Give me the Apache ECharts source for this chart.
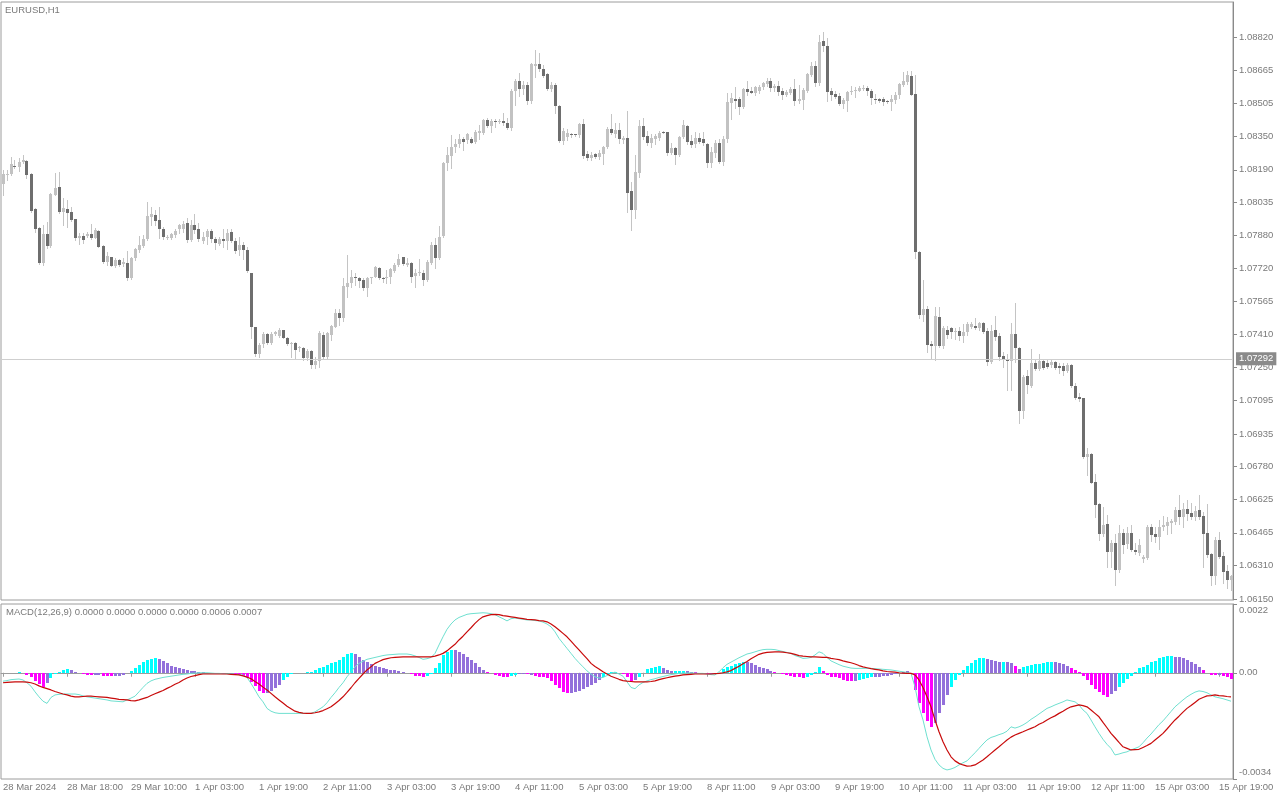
<!DOCTYPE html>
<html><head><meta charset="utf-8">
<script src="https://cdn.jsdelivr.net/npm/echarts@6/dist/echarts.min.js"></script>
<style>html,body{margin:0;padding:0;background:#fff}#c{width:1280px;height:800px}</style>
</head><body><div id="c"></div>
<script>
const symbolTitle = 'EURUSD,H1';
const macdTitle = 'MACD(12,26,9) 0.0000 0.0000 0.0000 0.0000 0.0006 0.0007';

const opens = [1.08121,1.08165,1.08170,1.08210,1.08205,1.08229,1.08232,1.08170,1.08004,1.07915,
1.07746,1.07887,1.07830,1.08070,1.08110,1.07991,1.08004,1.07991,1.07956,1.07864,
1.07877,1.07877,1.07883,1.07868,1.07899,1.07830,1.07750,1.07777,1.07735,1.07762,
1.07741,1.07746,1.07674,1.07769,1.07809,1.07830,1.07861,1.07967,1.07975,1.07952,
1.07911,1.07867,1.07864,1.07880,1.07907,1.07911,1.07938,1.07856,1.07927,1.07907,
1.07853,1.07869,1.07900,1.07862,1.07837,1.07859,1.07853,1.07896,1.07853,1.07808,
1.07832,1.07808,1.07698,1.07441,1.07314,1.07362,1.07409,1.07368,1.07412,1.07400,
1.07428,1.07393,1.07362,1.07368,1.07341,1.07341,1.07294,1.07330,1.07262,1.07283,
1.07405,1.07302,1.07405,1.07444,1.07511,1.07484,1.07634,1.07650,1.07682,1.07674,
1.07666,1.07627,1.07674,1.07682,1.07722,1.07677,1.07674,1.07679,1.07711,1.07737,
1.07774,1.07737,1.07748,1.07685,1.07698,1.07701,1.07666,1.07749,1.07833,1.07769,
1.07875,1.08221,1.08255,1.08297,1.08312,1.08339,1.08331,1.08338,1.08324,1.08367,
1.08367,1.08427,1.08398,1.08424,1.08419,1.08424,1.08411,1.08387,1.08566,1.08614,
1.08573,1.08593,1.08519,1.08683,1.08693,1.08668,1.08645,1.08573,1.08593,1.08493,
1.08329,1.08344,1.08360,1.08359,1.08355,1.08408,1.08265,1.08245,1.08265,1.08249,
1.08265,1.08297,1.08383,1.08360,1.08379,1.08332,1.08340,1.08091,1.07999,1.08177,
1.08398,1.08351,1.08319,1.08335,1.08340,1.08371,1.08371,1.08272,1.08292,1.08261,
1.08348,1.08398,1.08329,1.08313,1.08340,1.08335,1.08313,1.08224,1.08268,1.08319,
1.08229,1.08335,1.08509,1.08525,1.08525,1.08490,1.08573,1.08566,1.08557,1.08566,
1.08582,1.08598,1.08614,1.08577,1.08588,1.08566,1.08544,1.08555,1.08576,1.08516,
1.08523,1.08566,1.08642,1.08682,1.08603,1.08801,1.08777,1.08566,1.08550,1.08539,
1.08503,1.08519,1.08560,1.08563,1.08566,1.08574,1.08579,1.08563,1.08528,1.08528,
1.08528,1.08519,1.08512,1.08523,1.08544,1.08595,1.08607,1.08634,1.08550,1.07800,
1.07502,1.07530,1.07361,1.07354,1.07492,1.07354,1.07429,1.07440,1.07418,1.07424,
1.07402,1.07418,1.07445,1.07449,1.07437,1.07460,1.07424,1.07278,1.07429,1.07402,
1.07307,1.07291,1.07281,1.07408,1.07342,1.07044,1.07212,1.07164,1.07270,1.07243,
1.07281,1.07270,1.07262,1.07278,1.07259,1.07259,1.07234,1.07262,1.07164,1.07112,
1.07104,1.06827,1.06839,1.06708,1.06602,1.06459,1.06507,1.06375,1.06418,1.06288,
1.06462,1.06412,1.06462,1.06383,1.06371,1.06339,1.06344,1.06494,1.06459,1.06447,
1.06491,1.06497,1.06513,1.06518,1.06573,1.06538,1.06576,1.06561,1.06542,1.06573,
1.06545,1.06466,1.06364,1.06260,1.06431,1.06355,1.06283,1.06241];

const highs = [1.08189,1.08189,1.08253,1.08237,1.08245,1.08260,1.08237,1.08173,1.08007,1.07918,
1.07928,1.07944,1.08078,1.08173,1.08181,1.08055,1.08047,1.08015,1.07956,1.07888,
1.07888,1.07893,1.07931,1.07915,1.07904,1.07833,1.07801,1.07777,1.07769,1.07766,
1.07769,1.07804,1.07777,1.07817,1.07877,1.07880,1.08039,1.08015,1.07999,1.08015,
1.07919,1.07880,1.07888,1.07911,1.07935,1.07948,1.07959,1.07951,1.07979,1.07938,
1.07896,1.07907,1.07911,1.07872,1.07869,1.07907,1.07911,1.07907,1.07864,1.07872,
1.07848,1.07824,1.07701,1.07444,1.07365,1.07420,1.07416,1.07420,1.07425,1.07436,
1.07431,1.07397,1.07373,1.07373,1.07354,1.07349,1.07338,1.07335,1.07302,1.07425,
1.07421,1.07421,1.07452,1.07527,1.07527,1.07674,1.07785,1.07714,1.07698,1.07682,
1.07674,1.07682,1.07682,1.07733,1.07730,1.07682,1.07714,1.07722,1.07745,1.07790,
1.07777,1.07769,1.07753,1.07717,1.07764,1.07714,1.07761,1.07848,1.07864,1.07923,
1.08228,1.08300,1.08355,1.08335,1.08360,1.08347,1.08363,1.08348,1.08379,1.08403,
1.08430,1.08435,1.08430,1.08430,1.08430,1.08459,1.08435,1.08573,1.08620,1.08652,
1.08614,1.08609,1.08699,1.08759,1.08747,1.08688,1.08652,1.08609,1.08604,1.08497,
1.08387,1.08382,1.08367,1.08360,1.08411,1.08430,1.08281,1.08276,1.08272,1.08284,
1.08303,1.08392,1.08455,1.08411,1.08414,1.08350,1.08471,1.08134,1.08261,1.08427,
1.08435,1.08376,1.08360,1.08360,1.08376,1.08373,1.08371,1.08319,1.08297,1.08351,
1.08427,1.08403,1.08356,1.08371,1.08367,1.08371,1.08319,1.08297,1.08332,1.08335,
1.08351,1.08554,1.08554,1.08582,1.08538,1.08577,1.08614,1.08582,1.08588,1.08593,
1.08609,1.08625,1.08625,1.08598,1.08614,1.08579,1.08571,1.08582,1.08623,1.08595,
1.08579,1.08650,1.08702,1.08706,1.08829,1.08845,1.08816,1.08579,1.08566,1.08555,
1.08531,1.08566,1.08587,1.08582,1.08587,1.08592,1.08587,1.08576,1.08550,1.08531,
1.08535,1.08523,1.08547,1.08560,1.08603,1.08655,1.08658,1.08661,1.08639,1.07803,
1.07668,1.07541,1.07376,1.07540,1.07540,1.07449,1.07449,1.07445,1.07437,1.07445,
1.07456,1.07465,1.07465,1.07484,1.07468,1.07468,1.07437,1.07452,1.07497,1.07413,
1.07326,1.07313,1.07460,1.07555,1.07350,1.07215,1.07239,1.07338,1.07286,1.07313,
1.07286,1.07286,1.07289,1.07281,1.07270,1.07270,1.07270,1.07266,1.07175,1.07128,
1.07107,1.06866,1.06846,1.06744,1.06605,1.06589,1.06550,1.06431,1.06459,1.06502,
1.06481,1.06494,1.06502,1.06418,1.06434,1.06359,1.06502,1.06507,1.06494,1.06526,
1.06545,1.06542,1.06529,1.06589,1.06645,1.06605,1.06621,1.06605,1.06592,1.06645,
1.06565,1.06602,1.06371,1.06447,1.06470,1.06375,1.06312,1.06264];

const lows = [1.08070,1.08142,1.08165,1.08197,1.08184,1.08221,1.08150,1.07991,1.07893,1.07741,
1.07738,1.07820,1.07825,1.08070,1.07983,1.07928,1.07920,1.07947,1.07857,1.07836,
1.07841,1.07872,1.07861,1.07864,1.07825,1.07746,1.07738,1.07735,1.07730,1.07735,
1.07735,1.07666,1.07671,1.07762,1.07801,1.07825,1.07857,1.07928,1.07928,1.07864,
1.07859,1.07859,1.07859,1.07872,1.07888,1.07896,1.07848,1.07853,1.07888,1.07853,
1.07840,1.07837,1.07848,1.07816,1.07832,1.07824,1.07816,1.07848,1.07796,1.07785,
1.07764,1.07705,1.07389,1.07305,1.07302,1.07349,1.07362,1.07362,1.07406,1.07397,
1.07389,1.07357,1.07302,1.07294,1.07330,1.07286,1.07286,1.07250,1.07246,1.07254,
1.07294,1.07294,1.07381,1.07441,1.07452,1.07473,1.07587,1.07634,1.07642,1.07634,
1.07619,1.07590,1.07650,1.07679,1.07669,1.07658,1.07650,1.07650,1.07706,1.07733,
1.07737,1.07733,1.07658,1.07631,1.07690,1.07642,1.07663,1.07742,1.07722,1.07764,
1.07872,1.08189,1.08197,1.08276,1.08300,1.08284,1.08316,1.08316,1.08319,1.08335,
1.08360,1.08392,1.08371,1.08392,1.08411,1.08403,1.08382,1.08379,1.08498,1.08541,
1.08550,1.08503,1.08509,1.08633,1.08661,1.08630,1.08569,1.08566,1.08459,1.08324,
1.08313,1.08332,1.08348,1.08350,1.08348,1.08245,1.08237,1.08237,1.08245,1.08240,
1.08218,1.08292,1.08360,1.08348,1.08316,1.08320,1.07991,1.07904,1.07960,1.08154,
1.08335,1.08308,1.08300,1.08313,1.08332,1.08363,1.08261,1.08265,1.08218,1.08256,
1.08340,1.08313,1.08297,1.08300,1.08316,1.08308,1.08205,1.08202,1.08253,1.08221,
1.08213,1.08324,1.08430,1.08482,1.08455,1.08482,1.08546,1.08554,1.08546,1.08554,
1.08573,1.08588,1.08566,1.08566,1.08547,1.08528,1.08539,1.08550,1.08500,1.08508,
1.08481,1.08560,1.08634,1.08587,1.08595,1.08756,1.08515,1.08523,1.08531,1.08500,
1.08484,1.08468,1.08550,1.08536,1.08563,1.08571,1.08547,1.08503,1.08508,1.08512,
1.08496,1.08508,1.08476,1.08508,1.08531,1.08587,1.08598,1.08544,1.07771,1.07486,
1.07470,1.07324,1.07291,1.07286,1.07349,1.07342,1.07389,1.07389,1.07386,1.07381,
1.07373,1.07405,1.07437,1.07433,1.07429,1.07413,1.07262,1.07270,1.07381,1.07286,
1.07254,1.07144,1.07144,1.07278,1.06985,1.07012,1.07128,1.07159,1.07239,1.07239,
1.07243,1.07246,1.07254,1.07243,1.07223,1.07215,1.07228,1.07159,1.07101,1.07091,
1.06819,1.06740,1.06700,1.06542,1.06431,1.06450,1.06304,1.06304,1.06217,1.06280,
1.06367,1.06391,1.06380,1.06364,1.06359,1.06328,1.06339,1.06428,1.06423,1.06386,
1.06478,1.06459,1.06462,1.06507,1.06507,1.06494,1.06526,1.06529,1.06526,1.06529,
1.06304,1.06351,1.06217,1.06222,1.06344,1.06225,1.06201,1.06193];

const closes = [1.08169,1.08172,1.08218,1.08205,1.08229,1.08237,1.08165,1.07996,1.07909,1.07746,
1.07883,1.07830,1.08075,1.08105,1.07991,1.08010,1.07983,1.07952,1.07868,1.07877,
1.07857,1.07887,1.07868,1.07904,1.07825,1.07750,1.07782,1.07735,1.07762,1.07738,
1.07750,1.07674,1.07773,1.07814,1.07833,1.07861,1.07972,1.07979,1.07947,1.07907,
1.07869,1.07872,1.07883,1.07900,1.07927,1.07932,1.07856,1.07927,1.07903,1.07859,
1.07872,1.07900,1.07859,1.07843,1.07859,1.07853,1.07891,1.07853,1.07805,1.07832,
1.07808,1.07710,1.07441,1.07314,1.07357,1.07412,1.07368,1.07412,1.07420,1.07431,
1.07393,1.07362,1.07368,1.07333,1.07349,1.07294,1.07330,1.07262,1.07283,1.07416,
1.07302,1.07416,1.07448,1.07511,1.07484,1.07638,1.07653,1.07682,1.07674,1.07663,
1.07627,1.07674,1.07679,1.07726,1.07674,1.07672,1.07682,1.07717,1.07737,1.07764,
1.07742,1.07748,1.07682,1.07701,1.07706,1.07666,1.07753,1.07833,1.07769,1.07872,
1.08224,1.08260,1.08297,1.08312,1.08339,1.08324,1.08360,1.08319,1.08371,1.08376,
1.08427,1.08398,1.08424,1.08419,1.08424,1.08411,1.08387,1.08566,1.08614,1.08573,
1.08593,1.08519,1.08693,1.08693,1.08668,1.08636,1.08573,1.08593,1.08493,1.08329,
1.08376,1.08367,1.08355,1.08354,1.08408,1.08256,1.08245,1.08261,1.08253,1.08268,
1.08297,1.08383,1.08367,1.08379,1.08335,1.08340,1.08082,1.07999,1.08181,1.08398,
1.08348,1.08319,1.08340,1.08351,1.08367,1.08367,1.08272,1.08292,1.08261,1.08348,
1.08403,1.08324,1.08308,1.08340,1.08324,1.08316,1.08224,1.08276,1.08319,1.08229,
1.08335,1.08514,1.08530,1.08519,1.08490,1.08573,1.08562,1.08557,1.08582,1.08582,
1.08601,1.08614,1.08577,1.08588,1.08560,1.08544,1.08560,1.08576,1.08516,1.08528,
1.08571,1.08645,1.08682,1.08603,1.08797,1.08777,1.08560,1.08547,1.08535,1.08503,
1.08523,1.08560,1.08566,1.08571,1.08579,1.08579,1.08563,1.08531,1.08523,1.08519,
1.08512,1.08512,1.08528,1.08547,1.08598,1.08614,1.08642,1.08547,1.07800,1.07502,
1.07530,1.07359,1.07354,1.07497,1.07354,1.07437,1.07405,1.07418,1.07424,1.07402,
1.07421,1.07456,1.07456,1.07437,1.07460,1.07421,1.07278,1.07424,1.07397,1.07302,
1.07291,1.07281,1.07408,1.07342,1.07044,1.07207,1.07167,1.07270,1.07243,1.07281,
1.07250,1.07254,1.07278,1.07250,1.07250,1.07234,1.07262,1.07164,1.07107,1.07101,
1.06827,1.06839,1.06703,1.06597,1.06459,1.06502,1.06375,1.06418,1.06288,1.06462,
1.06407,1.06462,1.06383,1.06375,1.06407,1.06348,1.06494,1.06454,1.06447,1.06494,
1.06502,1.06518,1.06523,1.06573,1.06538,1.06576,1.06554,1.06542,1.06570,1.06542,
1.06459,1.06359,1.06260,1.06431,1.06351,1.06280,1.06241,1.06260];

const bidPrice = 1.07292;
const priceTicks = [1.06150,1.06310,1.06465,1.06625,1.06780,1.06935,1.07095,1.07250,1.07410,
1.07565,1.07720,1.07880,1.08035,1.08190,1.08350,1.08505,1.08665,1.08820];
const timeLabels = ['28 Mar 2024','28 Mar 18:00','29 Mar 10:00','1 Apr 03:00','1 Apr 19:00',
'2 Apr 11:00','3 Apr 03:00','3 Apr 19:00','4 Apr 11:00','5 Apr 03:00','5 Apr 19:00',
'8 Apr 11:00','9 Apr 03:00','9 Apr 19:00','10 Apr 11:00','11 Apr 03:00','11 Apr 19:00',
'12 Apr 11:00','15 Apr 03:00','15 Apr 19:00'];
const LABEL_STEP = 16;

const macdMain = [-27e-5,-25e-5,-22e-5,-21e-5,-20e-5,-23e-5,-32e-5,-43e-5,-61e-5,-77e-5,
-91e-5,-98e-5,-79e-5,-71e-5,-69e-5,-68e-5,-68e-5,-68e-5,-68e-5,-70e-5,
-74e-5,-77e-5,-79e-5,-81e-5,-83e-5,-85e-5,-87e-5,-90e-5,-91e-5,-92e-5,
-93e-5,-87e-5,-81e-5,-75e-5,-61e-5,-47e-5,-34e-5,-26e-5,-21e-5,-18e-5,
-15e-5,-13e-5,-11e-5,-9e-5,-7e-5,-5e-5,-4e-5,-2e-5,-1e-5,0,
0,0,-1e-5,-2e-5,-2e-5,-3e-5,-3e-5,-4e-5,-5e-5,-6e-5,
-7e-5,-15e-5,-34e-5,-55e-5,-77e-5,-93e-5,-114e-5,-123e-5,-128e-5,-130e-5,
-130e-5,-130e-5,-130e-5,-130e-5,-130e-5,-130e-5,-130e-5,-130e-5,-125e-5,-117e-5,
-109e-5,-96e-5,-79e-5,-64e-5,-47e-5,-32e-5,-13e-5,3e-5,19e-5,30e-5,
37e-5,43e-5,46e-5,49e-5,52e-5,55e-5,57e-5,58e-5,59e-5,60e-5,
60e-5,60e-5,58e-5,54e-5,49e-5,43e-5,45e-5,49e-5,62e-5,89e-5,
115e-5,139e-5,156e-5,169e-5,177e-5,182e-5,187e-5,189e-5,190e-5,191e-5,
192e-5,191e-5,189e-5,186e-5,179e-5,173e-5,166e-5,173e-5,175e-5,173e-5,
171e-5,169e-5,169e-5,167e-5,166e-5,162e-5,156e-5,147e-5,131e-5,110e-5,
94e-5,78e-5,62e-5,46e-5,32e-5,19e-5,6e-5,-4e-5,-13e-5,-17e-5,
-15e-5,-9e-5,-2e-5,2e-5,-4e-5,-11e-5,-29e-5,-47e-5,-51e-5,-39e-5,
-31e-5,-26e-5,-22e-5,-19e-5,-15e-5,-12e-5,-9e-5,-6e-5,-4e-5,-2e-5,
-1e-5,-1e-5,0,-1e-5,-2e-5,-2e-5,-4e-5,-6e-5,-7e-5,3e-5,
16e-5,27e-5,34e-5,41e-5,48e-5,54e-5,60e-5,63e-5,67e-5,71e-5,
74e-5,75e-5,75e-5,74e-5,71e-5,68e-5,65e-5,62e-5,55e-5,51e-5,
46e-5,47e-5,49e-5,57e-5,67e-5,62e-5,49e-5,38e-5,32e-5,26e-5,
21e-5,18e-5,15e-5,14e-5,14e-5,14e-5,14e-5,14e-5,13e-5,12e-5,
11e-5,10e-5,9e-5,7e-5,5e-5,3e-5,1e-5,-2e-5,-45e-5,-109e-5,
-151e-5,-205e-5,-247e-5,-277e-5,-295e-5,-306e-5,-311e-5,-308e-5,-303e-5,-295e-5,
-288e-5,-282e-5,-269e-5,-256e-5,-242e-5,-228e-5,-215e-5,-207e-5,-203e-5,-198e-5,
-194e-5,-187e-5,-173e-5,-177e-5,-173e-5,-167e-5,-159e-5,-149e-5,-141e-5,-132e-5,
-123e-5,-114e-5,-109e-5,-103e-5,-98e-5,-93e-5,-87e-5,-90e-5,-93e-5,-103e-5,
-119e-5,-130e-5,-151e-5,-173e-5,-194e-5,-213e-5,-229e-5,-242e-5,-263e-5,-260e-5,
-256e-5,-253e-5,-247e-5,-242e-5,-237e-5,-224e-5,-209e-5,-196e-5,-181e-5,-166e-5,
-154e-5,-139e-5,-124e-5,-109e-5,-98e-5,-87e-5,-77e-5,-69e-5,-62e-5,-58e-5,
-60e-5,-64e-5,-71e-5,-77e-5,-80e-5,-83e-5,-87e-5,-91e-5];

const macdSignal = [-32e-5,-31e-5,-30e-5,-29e-5,-29e-5,-29e-5,-30e-5,-32e-5,-36e-5,-42e-5,
-47e-5,-51e-5,-55e-5,-60e-5,-64e-5,-68e-5,-71e-5,-75e-5,-77e-5,-77e-5,
-76e-5,-75e-5,-75e-5,-76e-5,-77e-5,-78e-5,-79e-5,-81e-5,-83e-5,-85e-5,
-86e-5,-87e-5,-89e-5,-90e-5,-87e-5,-83e-5,-79e-5,-73e-5,-67e-5,-62e-5,
-57e-5,-50e-5,-44e-5,-37e-5,-31e-5,-23e-5,-17e-5,-12e-5,-9e-5,-6e-5,
-4e-5,-4e-5,-4e-5,-4e-5,-4e-5,-4e-5,-4e-5,-5e-5,-6e-5,-7e-5,
-10e-5,-14e-5,-19e-5,-28e-5,-36e-5,-46e-5,-55e-5,-66e-5,-77e-5,-87e-5,
-97e-5,-107e-5,-115e-5,-123e-5,-127e-5,-129e-5,-130e-5,-130e-5,-128e-5,-125e-5,
-121e-5,-115e-5,-109e-5,-99e-5,-89e-5,-77e-5,-63e-5,-48e-5,-32e-5,-18e-5,
-4e-5,9e-5,19e-5,30e-5,36e-5,42e-5,45e-5,48e-5,49e-5,50e-5,
51e-5,51e-5,51e-5,51e-5,51e-5,51e-5,51e-5,51e-5,53e-5,57e-5,
62e-5,70e-5,81e-5,91e-5,105e-5,117e-5,131e-5,144e-5,158e-5,170e-5,
179e-5,183e-5,186e-5,187e-5,186e-5,183e-5,181e-5,179e-5,177e-5,175e-5,
173e-5,171e-5,170e-5,169e-5,167e-5,166e-5,163e-5,156e-5,147e-5,137e-5,
126e-5,115e-5,101e-5,87e-5,73e-5,59e-5,45e-5,30e-5,20e-5,12e-5,
3e-5,-4e-5,-11e-5,-16e-5,-21e-5,-25e-5,-27e-5,-28e-5,-29e-5,-29e-5,
-29e-5,-29e-5,-28e-5,-26e-5,-22e-5,-19e-5,-16e-5,-13e-5,-11e-5,-9e-5,
-7e-5,-6e-5,-5e-5,-4e-5,-4e-5,-4e-5,-4e-5,-4e-5,-3e-5,-2e-5,
0,3e-5,7e-5,14e-5,21e-5,29e-5,36e-5,45e-5,52e-5,59e-5,
63e-5,65e-5,66e-5,67e-5,67e-5,66e-5,64e-5,62e-5,59e-5,55e-5,
53e-5,52e-5,51e-5,51e-5,50e-5,49e-5,49e-5,46e-5,44e-5,42e-5,
38e-5,35e-5,32e-5,28e-5,23e-5,19e-5,16e-5,13e-5,11e-5,9e-5,
6e-5,4e-5,3e-5,2e-5,0,-1e-5,-2e-5,-2e-5,-7e-5,-23e-5,
-47e-5,-77e-5,-109e-5,-151e-5,-189e-5,-221e-5,-247e-5,-269e-5,-282e-5,-290e-5,
-295e-5,-299e-5,-298e-5,-295e-5,-287e-5,-279e-5,-269e-5,-258e-5,-247e-5,-237e-5,
-226e-5,-215e-5,-206e-5,-199e-5,-194e-5,-189e-5,-183e-5,-178e-5,-173e-5,-165e-5,
-159e-5,-151e-5,-144e-5,-138e-5,-130e-5,-123e-5,-115e-5,-109e-5,-106e-5,-103e-5,
-105e-5,-109e-5,-119e-5,-130e-5,-141e-5,-159e-5,-176e-5,-194e-5,-208e-5,-223e-5,
-237e-5,-242e-5,-247e-5,-246e-5,-245e-5,-239e-5,-233e-5,-226e-5,-215e-5,-205e-5,
-194e-5,-180e-5,-165e-5,-151e-5,-139e-5,-126e-5,-114e-5,-105e-5,-95e-5,-85e-5,
-79e-5,-74e-5,-73e-5,-71e-5,-73e-5,-74e-5,-76e-5,-77e-5];

const macdHist = [0,-1e-5,-1e-5,0,1e-5,0,-6e-5,-15e-5,-26e-5,-36e-5,
-45e-5,-32e-5,-16e-5,-4e-5,4e-5,9e-5,11e-5,9e-5,2e-5,-2e-5,
-4e-5,-6e-5,-7e-5,-7e-5,-7e-5,-9e-5,-10e-5,-11e-5,-10e-5,-9e-5,
-6e-5,-2e-5,6e-5,15e-5,26e-5,34e-5,41e-5,44e-5,46e-5,44e-5,
37e-5,30e-5,21e-5,17e-5,14e-5,12e-5,9e-5,7e-5,6e-5,4e-5,
2e-5,0,-2e-5,-3e-5,-3e-5,-4e-5,-4e-5,-4e-5,-5e-5,-6e-5,
-9e-5,-15e-5,-29e-5,-43e-5,-58e-5,-66e-5,-64e-5,-58e-5,-50e-5,-39e-5,
-23e-5,-13e-5,-4e-5,-1e-5,0,0,1e-5,3e-5,9e-5,14e-5,
19e-5,25e-5,30e-5,35e-5,41e-5,49e-5,59e-5,64e-5,59e-5,49e-5,
41e-5,33e-5,28e-5,22e-5,17e-5,14e-5,12e-5,10e-5,9e-5,7e-5,
4e-5,-2e-5,-5e-5,-9e-5,-11e-5,-12e-5,-11e-5,-4e-5,14e-5,32e-5,
57e-5,67e-5,74e-5,73e-5,66e-5,59e-5,49e-5,41e-5,30e-5,19e-5,
9e-5,2e-5,-2e-5,-6e-5,-11e-5,-14e-5,-15e-5,-11e-5,-6e-5,-4e-5,
-4e-5,-5e-5,-7e-5,-10e-5,-12e-5,-13e-5,-18e-5,-27e-5,-39e-5,-50e-5,
-60e-5,-64e-5,-64e-5,-61e-5,-57e-5,-51e-5,-46e-5,-39e-5,-33e-5,-23e-5,
-13e-5,-4e-5,1e-5,2e-5,0,-4e-5,-15e-5,-26e-5,-23e-5,-13e-5,
-2e-5,11e-5,16e-5,20e-5,21e-5,15e-5,9e-5,5e-5,5e-5,6e-5,
6e-5,5e-5,3e-5,1e-5,-1e-5,-3e-5,-4e-5,-4e-5,-4e-5,0,
11e-5,17e-5,22e-5,28e-5,32e-5,35e-5,34e-5,30e-5,25e-5,19e-5,
14e-5,11e-5,7e-5,4e-5,-2e-5,-5e-5,-7e-5,-10e-5,-12e-5,-15e-5,
-16e-5,-13e-5,-7e-5,3e-5,19e-5,6e-5,-7e-5,-12e-5,-15e-5,-18e-5,
-22e-5,-25e-5,-26e-5,-25e-5,-22e-5,-19e-5,-17e-5,-15e-5,-13e-5,-12e-5,
-11e-5,-10e-5,-7e-5,-4e-5,0,4e-5,6e-5,0,-55e-5,-98e-5,
-130e-5,-154e-5,-173e-5,-162e-5,-130e-5,-103e-5,-71e-5,-47e-5,-23e-5,-7e-5,
9e-5,21e-5,32e-5,41e-5,46e-5,47e-5,44e-5,41e-5,37e-5,35e-5,
35e-5,34e-5,32e-5,21e-5,11e-5,18e-5,22e-5,25e-5,27e-5,29e-5,
31e-5,33e-5,35e-5,34e-5,31e-5,28e-5,23e-5,15e-5,9e-5,2e-5,
-9e-5,-23e-5,-39e-5,-51e-5,-62e-5,-71e-5,-77e-5,-69e-5,-58e-5,-47e-5,
-34e-5,-21e-5,-9e-5,2e-5,14e-5,19e-5,26e-5,33e-5,39e-5,46e-5,
50e-5,53e-5,53e-5,51e-5,49e-5,46e-5,41e-5,34e-5,27e-5,19e-5,
9e-5,0,-6e-5,-7e-5,-7e-5,-9e-5,-15e-5,-21e-5];
const macdTicks = [-0.0034, 0, 0.0022];

// ---------- styling ----------
const FONT = 'Liberation Sans, Arial, sans-serif';
const TEXT = '#7a7a7a';
const FRAME = '#9c9c9c';
const BULL = '#c2c2c2', BEAR = '#6e6e6e', WICK = '#c4c4c4';
const CYAN = '#00ffff', PURPLE = '#9370db', MAGENTA = '#ff00ff';

const categories = opens.map((_, i) => String(i));
const candleData = opens.map((o, i) => [i, o, closes[i], lows[i], highs[i]]);
const histData = macdHist.map((v, i) => [i, v]);
const histColors = macdHist.map((h, i) => {
  if (i === 0) return MAGENTA;
  const dh = h - macdHist[i - 1], dm = macdMain[i] - macdMain[i - 1];
  if (dh >= 0 && dm >= 0) return CYAN;
  if (dh < 0 && dm < 0) return MAGENTA;
  return PURPLE;
});

function renderCandle(params, api) {
  const i = api.value(0);
  const o = api.value(1), c = api.value(2), l = api.value(3), h = api.value(4);
  const pO = api.coord([i, o]), pC = api.coord([i, c]);
  const pL = api.coord([i, l]), pH = api.coord([i, h]);
  const x = Math.floor(pO[0]);
  const top = Math.round(Math.min(pO[1], pC[1]));
  const bot = Math.round(Math.max(pO[1], pC[1]));
  return {
    type: 'group',
    children: [
      { type: 'line', shape: { x1: x + 0.5, y1: Math.round(pH[1]), x2: x + 0.5, y2: Math.round(pL[1]) + 1 },
        style: { stroke: WICK, lineWidth: 1 } },
      { type: 'rect', shape: { x: x - 1, y: top, width: 3, height: Math.max(1, bot - top) },
        style: { fill: c >= o ? BULL : BEAR } }
    ]
  };
}
function renderHist(params, api) {
  const i = api.value(0), v = api.value(1);
  const p0 = api.coord([i, 0]), p1 = api.coord([i, v]);
  const x = Math.floor(p0[0]);
  const y0 = Math.round(p0[1]), y1 = Math.round(p1[1]);
  return { type: 'rect', shape: { x: x - 1, y: Math.min(y0, y1), width: 3, height: Math.abs(y1 - y0) },
    style: { fill: histColors[params.dataIndex] } };
}

const labelInterval = (idx) => idx % LABEL_STEP === 0;
const txt = { color: TEXT, fontSize: 9.5, fontFamily: FONT };

const chart = echarts.init(document.getElementById('c'), null, { renderer: 'canvas' });
chart.setOption({
  animation: false,
  backgroundColor: '#ffffff',
  title: [
    { text: symbolTitle, left: 5, top: 5, padding: 0, textStyle: Object.assign({ fontWeight: 'normal' }, txt) },
    { text: macdTitle, left: 6, top: 607, padding: 0, textStyle: Object.assign({ fontWeight: 'normal' }, txt) }
  ],
  grid: [
    { left: 1, width: 1232, top: 2, height: 598, show: true, borderColor: FRAME, borderWidth: 1 },
    { left: 1, width: 1232, top: 604, height: 175, show: true, borderColor: FRAME, borderWidth: 1 }
  ],
  xAxis: [
    { type: 'category', gridIndex: 0, data: categories, show: false },
    { type: 'category', gridIndex: 1, data: categories, position: 'bottom',
      axisLine: { show: true, lineStyle: { color: FRAME } },
      axisTick: { show: true, alignWithLabel: true, interval: labelInterval, length: 4, lineStyle: { color: FRAME } },
      axisLabel: Object.assign({ interval: labelInterval, align: 'left', margin: 3,
        formatter: (v) => timeLabels[Math.round(Number(v) / LABEL_STEP)] || '' }, txt),
      splitLine: { show: false } }
  ],
  yAxis: [
    { type: 'value', gridIndex: 0, position: 'right', min: 1.061455, max: 1.089878,
      splitLine: { show: false },
      axisLine: { show: true, lineStyle: { color: '#8a8a8a' } },
      axisTick: { show: true, customValues: priceTicks, length: 4, lineStyle: { color: '#8a8a8a' } },
      axisLabel: Object.assign({ customValues: priceTicks, margin: 6, formatter: (v) => v.toFixed(5) }, txt) },
    { type: 'value', gridIndex: 1, position: 'right', min: -0.0034, max: 0.0022,
      splitLine: { show: false },
      axisLine: { show: true, lineStyle: { color: '#8a8a8a' } },
      axisTick: { show: true, customValues: macdTicks, length: 4, lineStyle: { color: '#8a8a8a' } },
      axisLabel: Object.assign({ customValues: macdTicks, margin: 6,
        formatter: (v) => v === 0 ? '0.00' : (v > 0 ? '{t|' + v.toFixed(4) + '}' : '{b|' + v.toFixed(4) + '}'),
        rich: { t: Object.assign({ padding: [13, 0, 0, 0] }, txt), b: Object.assign({ padding: [0, 0, 13, 0] }, txt) } }, txt) }
  ],
  series: [
    { type: 'custom', name: 'EURUSD', xAxisIndex: 0, yAxisIndex: 0, data: candleData,
      renderItem: renderCandle, encode: { x: 0, y: [1, 2, 3, 4] }, clip: true, z: 3 },
    { type: 'line', name: 'Bid', xAxisIndex: 0, yAxisIndex: 0, data: [], z: 2,
      markLine: { silent: true, symbol: ['none', 'none'], animation: false, precision: 5,
        data: [{ yAxis: bidPrice }],
        lineStyle: { color: '#cfcfcf', width: 1, type: 'solid' },
        label: { show: true, position: 'end', distance: 3, formatter: bidPrice.toFixed(5),
          color: '#ffffff', backgroundColor: '#8a8a8a', padding: [2, 3, 1, 3], fontSize: 9.5, fontFamily: FONT } } },
    { type: 'custom', name: 'OsMA', xAxisIndex: 1, yAxisIndex: 1, data: histData,
      renderItem: renderHist, encode: { x: 0, y: 1 }, clip: true, z: 1 },
    { type: 'line', name: 'MACD', xAxisIndex: 1, yAxisIndex: 1, data: macdMain, showSymbol: false, symbol: 'none',
      lineStyle: { color: '#6fe0d0', width: 1 }, z: 4 },
    { type: 'line', name: 'Signal', xAxisIndex: 1, yAxisIndex: 1, data: macdSignal, showSymbol: false, symbol: 'none',
      lineStyle: { color: '#c80a0a', width: 1.2 }, z: 5 }
  ]
});
</script>
</body></html>
